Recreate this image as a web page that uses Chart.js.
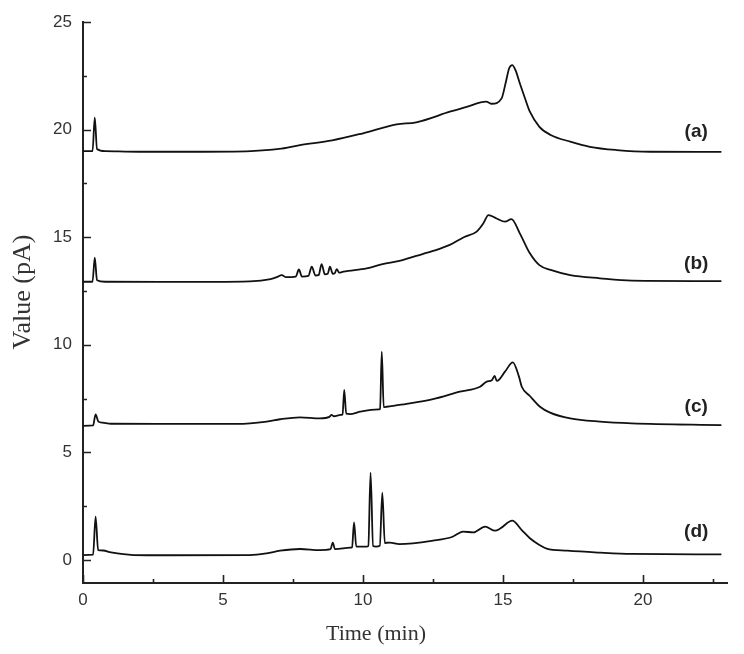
<!DOCTYPE html>
<html>
<head>
<meta charset="utf-8">
<script src="https://cdn.jsdelivr.net/npm/chart.js@4.4.1/dist/chart.umd.min.js"></script>
<style>
  html, body { margin: 0; padding: 0; background: #fff; }
  canvas { display: block; }
</style>
</head>
<body>
<canvas id="grafico" width="744" height="654"></canvas>
<script>
const tempoA = [0, 0.34, 0.42, 0.5, 0.8, 2, 4, 6, 7, 7.75, 8.9, 10, 11.2, 11.9, 13.1, 13.7, 14.4, 14.6, 14.95, 15.1, 15.22, 15.33, 15.45, 15.6, 15.8, 15.96, 16.3, 16.7, 17.4, 18.1, 19.06, 20.25, 22.8];
const sinalA = [19.0, 19.0, 20.55, 19.1, 19.0, 18.97, 18.97, 19.0, 19.1, 19.28, 19.5, 19.83, 20.24, 20.34, 20.83, 21.06, 21.3, 21.2, 21.45, 22.2, 22.85, 23.0, 22.75, 22.15, 21.4, 20.83, 20.13, 19.75, 19.44, 19.2, 19.05, 18.97, 18.96];

const tempoB = [0, 0.34, 0.42, 0.5, 0.8, 3, 5.96, 6.7, 6.92, 7.1, 7.25, 7.6, 7.71, 7.82, 8.05, 8.17, 8.3, 8.42, 8.52, 8.64, 8.74, 8.82, 8.92, 8.99, 9.06, 9.15, 9.3, 10.13, 10.7, 11.3, 11.9, 12.5, 13.1, 13.6, 14.06, 14.3, 14.48, 14.77, 15.07, 15.3, 15.6, 15.96, 16.3, 16.7, 17.4, 18.46, 19.6, 22.8];
const sinalB = [12.93, 12.93, 14.05, 13.0, 12.93, 12.92, 12.95, 13.05, 13.14, 13.24, 13.14, 13.17, 13.5, 13.17, 13.2, 13.63, 13.22, 13.25, 13.75, 13.27, 13.3, 13.63, 13.3, 13.32, 13.52, 13.35, 13.4, 13.55, 13.75, 13.9, 14.13, 14.36, 14.64, 15.0, 15.26, 15.65, 16.03, 15.87, 15.72, 15.84, 15.18, 14.25, 13.7, 13.48, 13.24, 13.09, 12.98, 12.96];

const tempoC = [0, 0.36, 0.45, 0.55, 0.7, 1.0, 3, 5.5, 6.56, 7.04, 7.75, 8.46, 8.8, 8.88, 8.96, 9.2, 9.27, 9.33, 9.4, 9.54, 9.89, 10.55, 10.61, 10.67, 10.74, 10.85, 11.56, 12.5, 13.46, 14.18, 14.42, 14.6, 14.7, 14.78, 15.07, 15.35, 15.57, 15.67, 15.96, 16.32, 16.68, 17.4, 18.46, 19.6, 22.8];
const sinalC = [6.23, 6.25, 6.77, 6.43, 6.38, 6.33, 6.32, 6.32, 6.43, 6.54, 6.63, 6.58, 6.65, 6.74, 6.68, 6.74, 6.76, 7.9, 6.8, 6.78, 6.89, 7.0, 7.02, 9.68, 7.1, 7.12, 7.25, 7.47, 7.82, 8.05, 8.29, 8.35, 8.55, 8.32, 8.75, 9.18, 8.52, 8.05, 7.62, 7.12, 6.85, 6.58, 6.43, 6.35, 6.27];

const tempoD = [0, 0.36, 0.45, 0.54, 0.72, 1.0, 1.8, 3, 5.96, 6.56, 7.04, 7.75, 8.46, 8.84, 8.92, 9.0, 9.54, 9.61, 9.68, 9.76, 9.83, 10.13, 10.19, 10.27, 10.36, 10.46, 10.6, 10.69, 10.78, 10.85, 10.96, 11.3, 12.5, 13.2, 13.57, 13.94, 14.36, 14.72, 14.9, 15.33, 15.67, 15.96, 16.3, 16.56, 17.3, 18.46, 19.6, 22.8];
const sinalD = [0.23, 0.25, 2.01, 0.46, 0.44, 0.35, 0.23, 0.22, 0.23, 0.31, 0.43, 0.51, 0.46, 0.5, 0.81, 0.5, 0.57, 0.6, 1.75, 0.62, 0.62, 0.62, 0.65, 4.06, 0.65, 0.62, 0.66, 3.13, 0.78, 0.8, 0.81, 0.74, 0.9, 1.08, 1.32, 1.28, 1.55, 1.36, 1.46, 1.83, 1.39, 1.01, 0.7, 0.53, 0.43, 0.34, 0.28, 0.26];

// eixos
const ticksX = [0, 5, 10, 15, 20];
const ticksXMenor = [2.5, 7.5, 12.5, 17.5, 22.5];
const ticksY = [0, 5, 10, 15, 20, 25];
const ticksYMenor = [2.5, 7.5, 12.5, 17.5, 22.5];

// rótulos das curvas
const rotulos = ['(a)', '(b)', '(c)', '(d)'];
const rotuloX = [21.9, 21.9, 21.9, 21.9];
const rotuloY = [19.9, 13.75, 7.1, 1.3];

const corLinha = '#111';
const corTexto = '#333';

function pontos(t, v) {
    return t.map((x, i) => ({ x: x, y: v[i] }));
}

// ticks para dentro + textos
const decoracao = {
    id: 'decoracao',
    afterDraw(chart) {
        const { ctx, chartArea, scales } = chart;
        const x = scales.x, y = scales.y;
        ctx.save();
        ctx.strokeStyle = '#222';
        ctx.lineWidth = 1.6;
        ctx.beginPath();
        ticksX.concat(ticksXMenor).forEach(v => {
            const px = Math.round(x.getPixelForValue(v)) + 0.5;
            const len = ticksX.includes(v) ? 8 : 4;
            ctx.moveTo(px, chartArea.bottom);
            ctx.lineTo(px, chartArea.bottom - len);
        });
        ticksY.concat(ticksYMenor).forEach(v => {
            const py = Math.round(y.getPixelForValue(v)) + 0.5;
            const len = ticksY.includes(v) ? 8 : 4;
            ctx.moveTo(chartArea.left, py);
            ctx.lineTo(chartArea.left + len, py);
        });
        ctx.stroke();

        // rótulos (a)-(d)
        ctx.fillStyle = '#222';
        ctx.font = 'bold 19px "Liberation Sans", Arial, sans-serif';
        ctx.textAlign = 'center';
        ctx.textBaseline = 'middle';
        rotulos.forEach((r, i) => {
            ctx.fillText(r, x.getPixelForValue(rotuloX[i]), y.getPixelForValue(rotuloY[i]));
        });

        // títulos dos eixos
        ctx.fillStyle = corTexto;
        ctx.font = '22px "Liberation Serif", "Times New Roman", serif';
        ctx.fillText('Time (min)', 376, 634);
        ctx.save();
        ctx.translate(23, 292);
        ctx.rotate(-Math.PI / 2);
        ctx.font = '26px "Liberation Serif", "Times New Roman", serif';
        ctx.fillText('Value (pA)', 0, 0);
        ctx.restore();
        ctx.restore();
    }
};

const fonteTick = { family: '"Liberation Sans", Arial, sans-serif', size: 17 };

new Chart(document.getElementById('grafico'), {
    type: 'line',
    data: {
        datasets: [
            { label: 'a', data: pontos(tempoA, sinalA) },
            { label: 'b', data: pontos(tempoB, sinalB) },
            { label: 'c', data: pontos(tempoC, sinalC) },
            { label: 'd', data: pontos(tempoD, sinalD) }
        ]
    },
    options: {
        responsive: false,
        animation: false,
        parsing: false,
        layout: { padding: { top: 22, right: 17, bottom: 0, left: 0 } },
        plugins: {
            legend: { display: false },
            tooltip: { enabled: false }
        },
        elements: {
            point: { radius: 0 },
            line: { borderWidth: 1.8, borderColor: corLinha, cubicInterpolationMode: 'monotone', fill: false }
        },
        scales: {
            x: {
                type: 'linear',
                min: 0,
                max: 23,
                afterFit(s) { s.height = 71; },
                afterBuildTicks(s) { s.ticks = ticksX.map(v => ({ value: v })); },
                grid: { display: false, drawTicks: false },
                border: { color: '#222', width: 2 },
                ticks: { padding: 7, font: fonteTick, color: corTexto, maxRotation: 0, autoSkip: false }
            },
            y: {
                type: 'linear',
                min: -1.07,
                max: 25,
                afterFit(s) { s.width = 83; },
                afterBuildTicks(s) { s.ticks = ticksY.map(v => ({ value: v })); },
                grid: { display: false, drawTicks: false },
                border: { color: '#222', width: 2 },
                ticks: { padding: 11, font: fonteTick, color: corTexto, autoSkip: false }
            }
        }
    },
    plugins: [decoracao]
});
</script>
</body>
</html>
